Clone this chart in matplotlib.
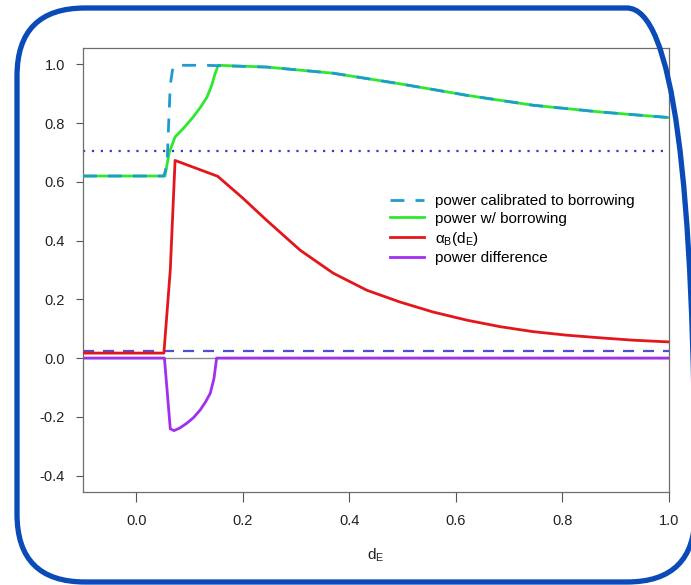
import matplotlib

matplotlib.use("Agg")
import matplotlib.pyplot as plt
from matplotlib.patches import FancyBboxPatch
from matplotlib.transforms import IdentityTransform

plt.rcParams["font.family"] = ["Liberation Sans", "DejaVu Sans"]
plt.rcParams["mathtext.fontset"] = "custom"
plt.rcParams["mathtext.rm"] = "Liberation Sans"
plt.rcParams["mathtext.it"] = "Liberation Sans:italic"

# power calibrated to borrowing (dashed)
calib_x = [-0.1, 0.052, 0.058, 0.061, 0.064, 0.068, 0.073, 0.13, 0.245, 0.37, 0.495,
           0.62, 0.745, 0.871, 1.0]
calib_y = [0.62, 0.62, 0.66, 0.80, 0.93, 0.98, 0.997, 0.997, 0.991, 0.970, 0.934,
           0.895, 0.861, 0.838, 0.819]

# power with borrowing
borrow_x = [-0.1, 0.054, 0.062, 0.073, 0.09, 0.107, 0.121, 0.133, 0.142, 0.148, 0.154,
            0.245, 0.37, 0.495, 0.62, 0.745, 0.871, 1.0]
borrow_y = [0.62, 0.62, 0.70, 0.753, 0.785, 0.821, 0.855, 0.889, 0.93, 0.968, 0.997,
            0.991, 0.970, 0.934, 0.895, 0.861, 0.838, 0.819]

# alpha_B(d_E)
alpha_x = [-0.1, 0.052, 0.064, 0.073, 0.153, 0.20, 0.245, 0.308, 0.37, 0.433, 0.495,
           0.557, 0.621, 0.683, 0.745, 0.808, 0.871, 0.932, 1.0]
alpha_y = [0.017, 0.017, 0.30, 0.673, 0.619, 0.545, 0.469, 0.367, 0.289, 0.231, 0.191,
           0.157, 0.129, 0.107, 0.090, 0.078, 0.069, 0.061, 0.055]

# power difference
diff_x = [-0.1, 0.053, 0.064, 0.071, 0.082, 0.095, 0.108, 0.120, 0.130, 0.139, 0.146,
          0.151, 1.0]
diff_y = [0.0, 0.0, -0.241, -0.247, -0.238, -0.222, -0.202, -0.177, -0.15, -0.12,
          -0.07, 0.0, 0.0]

ref_dotted = 0.705
ref_dashed = 0.025

x_ticks = [0.0, 0.2, 0.4, 0.6, 0.8, 1.0]
y_ticks = [-0.4, -0.2, 0.0, 0.2, 0.4, 0.6, 0.8, 1.0]

fig = plt.figure(figsize=(6.91, 5.85), dpi=100)
ax = fig.add_axes([0.120, 0.159, 0.848, 0.759])

ax.axhline(0.0, color="#8c8c8c", lw=1.0, zorder=1)
ax.axhline(ref_dotted, color="#3a3ac8", lw=1.6, ls=(0, (1, 3)), zorder=1)
ax.axhline(ref_dashed, color="#4f4fd6", lw=1.6, ls=(0, (5, 4)), zorder=1)

ax.plot(diff_x, diff_y, color="#a02ff0", lw=2, label="power difference", zorder=2)
ax.plot(alpha_x, alpha_y, color="#e3161b", lw=2,
        label=r"α$_{\mathrm{B}}$(d$_{\mathrm{E}}$)", zorder=3)
ax.plot(borrow_x, borrow_y, color="#2ee82e", lw=2, label="power w/ borrowing", zorder=4)
ax.plot(calib_x, calib_y, color="#1f9bcf", lw=2, ls=(0, (5, 4)),
        label="power calibrated to borrowing", zorder=5)

ax.set_xlim(-0.1, 1.0)
ax.set_ylim(-0.456, 1.056)
ax.set_xticks(x_ticks)
ax.set_yticks(y_ticks)
ax.set_xticklabels([f"{v:.1f}" for v in x_ticks])
ax.set_yticklabels([f"{v:.1f}" for v in y_ticks])
ax.tick_params(axis="x", length=7, width=0.8, color="#555555", pad=9,
               labelsize=10.5, labelcolor="#222222")
ax.tick_params(axis="y", length=5, width=0.8, color="#555555", pad=8,
               labelsize=10.5, labelcolor="#222222")
for s in ax.spines.values():
    s.set_color("#6e6e6e")
    s.set_linewidth(0.9)

ax.set_xlabel(r"d$_{\mathrm{E}}$", fontsize=11, color="#222222", labelpad=13)

handles, labels = ax.get_legend_handles_labels()
order = [3, 2, 1, 0]
ax.legend([handles[i] for i in order], [labels[i] for i in order],
          loc="upper left", bbox_to_anchor=(0.514, 0.685), frameon=False,
          fontsize=11, handlelength=2.2, handletextpad=0.7, labelspacing=0.25,
          borderaxespad=0)

# rounded frame around the whole figure (pixel coordinates)
frame = FancyBboxPatch((17, 3), 678, 574,
                       boxstyle="round,pad=0,rounding_size=68",
                       transform=IdentityTransform(), fill=False,
                       edgecolor="#0a4bb8", lw=3.8, clip_on=False)
fig.patches.append(frame)

fig.savefig("out.png", dpi=100)
